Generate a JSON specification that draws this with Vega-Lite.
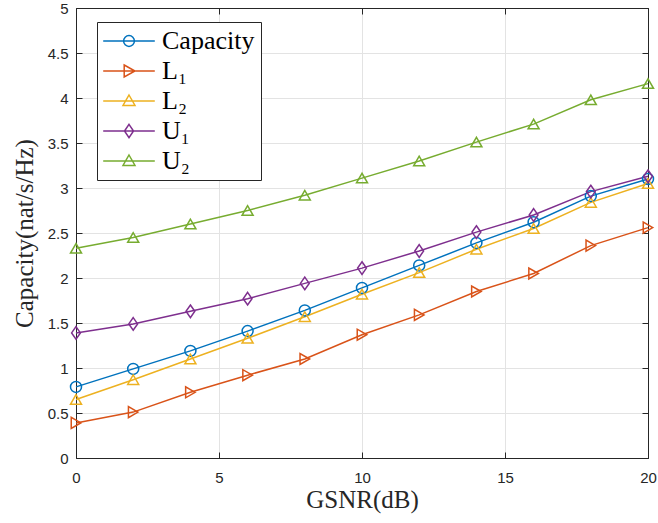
{
  "$schema": "https://vega.github.io/schema/vega-lite/v6.json",
  "width": 572,
  "height": 450,
  "autosize": {"type": "none"},
  "padding": {"left": 76, "top": 8, "right": 10, "bottom": 65},
  "background": "white",
  "config": {
    "view": {"stroke": "#262626", "strokeWidth": 1},
    "axis": {
      "domainColor": "#262626",
      "tickColor": "#262626",
      "labelColor": "#262626",
      "labelFont": "Liberation Sans",
      "labelFontSize": 15,
      "labelFlush": false,
      "titleFont": "Liberation Serif",
      "titleFontSize": 25,
      "titleFontWeight": "normal",
      "titleColor": "#262626",
      "gridColor": "#e3e3e3",
      "gridWidth": 1
    }
  },
  "data": {
    "values": [
      {"gsnr": 0, "cap": 0.79, "series": "Capacity"},
      {"gsnr": 2, "cap": 0.99, "series": "Capacity"},
      {"gsnr": 4, "cap": 1.19, "series": "Capacity"},
      {"gsnr": 6, "cap": 1.41, "series": "Capacity"},
      {"gsnr": 8, "cap": 1.64, "series": "Capacity"},
      {"gsnr": 10, "cap": 1.89, "series": "Capacity"},
      {"gsnr": 12, "cap": 2.14, "series": "Capacity"},
      {"gsnr": 14, "cap": 2.39, "series": "Capacity"},
      {"gsnr": 16, "cap": 2.62, "series": "Capacity"},
      {"gsnr": 18, "cap": 2.91, "series": "Capacity"},
      {"gsnr": 20, "cap": 3.10, "series": "Capacity"},
      {"gsnr": 0, "cap": 0.39, "series": "L\u2081"},
      {"gsnr": 2, "cap": 0.51, "series": "L\u2081"},
      {"gsnr": 4, "cap": 0.73, "series": "L\u2081"},
      {"gsnr": 6, "cap": 0.92, "series": "L\u2081"},
      {"gsnr": 8, "cap": 1.10, "series": "L\u2081"},
      {"gsnr": 10, "cap": 1.37, "series": "L\u2081"},
      {"gsnr": 12, "cap": 1.59, "series": "L\u2081"},
      {"gsnr": 14, "cap": 1.85, "series": "L\u2081"},
      {"gsnr": 16, "cap": 2.05, "series": "L\u2081"},
      {"gsnr": 18, "cap": 2.36, "series": "L\u2081"},
      {"gsnr": 20, "cap": 2.56, "series": "L\u2081"},
      {"gsnr": 0, "cap": 0.65, "series": "L\u2082"},
      {"gsnr": 2, "cap": 0.87, "series": "L\u2082"},
      {"gsnr": 4, "cap": 1.10, "series": "L\u2082"},
      {"gsnr": 6, "cap": 1.33, "series": "L\u2082"},
      {"gsnr": 8, "cap": 1.57, "series": "L\u2082"},
      {"gsnr": 10, "cap": 1.82, "series": "L\u2082"},
      {"gsnr": 12, "cap": 2.06, "series": "L\u2082"},
      {"gsnr": 14, "cap": 2.32, "series": "L\u2082"},
      {"gsnr": 16, "cap": 2.55, "series": "L\u2082"},
      {"gsnr": 18, "cap": 2.84, "series": "L\u2082"},
      {"gsnr": 20, "cap": 3.05, "series": "L\u2082"},
      {"gsnr": 0, "cap": 1.39, "series": "U\u2081"},
      {"gsnr": 2, "cap": 1.49, "series": "U\u2081"},
      {"gsnr": 4, "cap": 1.63, "series": "U\u2081"},
      {"gsnr": 6, "cap": 1.77, "series": "U\u2081"},
      {"gsnr": 8, "cap": 1.94, "series": "U\u2081"},
      {"gsnr": 10, "cap": 2.11, "series": "U\u2081"},
      {"gsnr": 12, "cap": 2.30, "series": "U\u2081"},
      {"gsnr": 14, "cap": 2.51, "series": "U\u2081"},
      {"gsnr": 16, "cap": 2.70, "series": "U\u2081"},
      {"gsnr": 18, "cap": 2.96, "series": "U\u2081"},
      {"gsnr": 20, "cap": 3.13, "series": "U\u2081"},
      {"gsnr": 0, "cap": 2.33, "series": "U\u2082"},
      {"gsnr": 2, "cap": 2.45, "series": "U\u2082"},
      {"gsnr": 4, "cap": 2.60, "series": "U\u2082"},
      {"gsnr": 6, "cap": 2.75, "series": "U\u2082"},
      {"gsnr": 8, "cap": 2.92, "series": "U\u2082"},
      {"gsnr": 10, "cap": 3.11, "series": "U\u2082"},
      {"gsnr": 12, "cap": 3.30, "series": "U\u2082"},
      {"gsnr": 14, "cap": 3.51, "series": "U\u2082"},
      {"gsnr": 16, "cap": 3.71, "series": "U\u2082"},
      {"gsnr": 18, "cap": 3.98, "series": "U\u2082"},
      {"gsnr": 20, "cap": 4.16, "series": "U\u2082"}
    ]
  },
  "layer": [
    {
      "mark": {"type": "line", "strokeWidth": 1.5},
      "encoding": {
        "x": {
          "field": "gsnr", "type": "quantitative",
          "scale": {"domain": [0, 20], "nice": false},
          "axis": {"orient": "bottom", "values": [0, 5, 10, 15, 20], "grid": true, "tickSize": -6, "labelPadding": 18, "title": "GSNR(dB)", "titlePadding": 2}
        },
        "y": {
          "field": "cap", "type": "quantitative",
          "scale": {"domain": [0, 5], "nice": false},
          "axis": {"orient": "left", "values": [0, 0.5, 1, 1.5, 2, 2.5, 3, 3.5, 4, 4.5, 5], "format": "~g", "grid": true, "tickSize": -6, "labelPadding": 14, "title": "Capacity(nat/s/Hz)", "titlePadding": 10}
        },
        "color": {
          "field": "series", "type": "nominal",
          "scale": {"domain": ["Capacity", "L\u2081", "L\u2082", "U\u2081", "U\u2082"], "range": ["#0072BD", "#D95319", "#EDB120", "#7E2F8E", "#77AC30"]},
          "legend": null
        }
      }
    },
    {
      "mark": {"type": "point", "filled": false, "size": 121, "strokeWidth": 1.5, "opacity": 1},
      "encoding": {
        "x": {
          "field": "gsnr", "type": "quantitative",
          "axis": {"orient": "top", "values": [0, 5, 10, 15, 20], "grid": false, "labels": false, "title": null, "tickSize": -6}
        },
        "y": {
          "field": "cap", "type": "quantitative",
          "axis": {"orient": "right", "values": [0, 0.5, 1, 1.5, 2, 2.5, 3, 3.5, 4, 4.5, 5], "grid": false, "labels": false, "title": null, "tickSize": -6}
        },
        "color": {"field": "series", "type": "nominal", "legend": null},
        "shape": {
          "field": "series", "type": "nominal",
          "scale": {"domain": ["Capacity", "L\u2081", "L\u2082", "U\u2081", "U\u2082"], "range": ["circle", "triangle-right", "triangle-up", "M0,-1.15L0.8,0L0,1.15L-0.8,0Z", "triangle-up"]},
          "legend": null
        }
      }
    },
    {
      "mark": {"type": "point", "filled": false, "size": 121, "strokeWidth": 1.5, "opacity": 0},
      "encoding": {
        "x": {"field": "gsnr", "type": "quantitative", "axis": null},
        "y": {"field": "cap", "type": "quantitative", "axis": null},
        "stroke": {
          "field": "series", "type": "nominal",
          "scale": {"domain": ["Capacity", "L\u2081", "L\u2082", "U\u2081", "U\u2082"], "range": ["#0072BD", "#D95319", "#EDB120", "#7E2F8E", "#77AC30"]},
          "legend": {
            "orient": "none", "legendX": 21, "legendY": 14, "title": null,
            "strokeColor": "#262626", "fillColor": "white", "padding": 6,
            "labelFont": "Liberation Serif", "labelFontSize": 26, "labelColor": "black",
            "symbolSize": 144, "symbolStrokeWidth": 1.5, "symbolOpacity": 1, "symbolFillColor": "transparent",
            "symbolOffset": 13, "labelOffset": 20, "rowPadding": 4
          }
        },
        "shape": {
          "field": "series", "type": "nominal",
          "scale": {"domain": ["Capacity", "L\u2081", "L\u2082", "U\u2081", "U\u2082"], "range": [
            "M-4.3,0H4.3M0.9,0A0.9,0.9 0 1,1 -0.9,0A0.9,0.9 0 1,1 0.9,0",
            "M-4.3,0H4.3M-0.8,-1L1,0L-0.8,1Z",
            "M-4.3,0H4.3M0,-1L1,0.75L-1,0.75Z",
            "M-4.3,0H4.3M0,-1.1L0.75,0L0,1.1L-0.75,0Z",
            "M-4.3,0H4.3M0,-1L1,0.75L-1,0.75Z"
          ]},
          "legend": {
            "orient": "none", "legendX": 21, "legendY": 14, "title": null,
            "strokeColor": "#262626", "fillColor": "white", "padding": 6,
            "labelFont": "Liberation Serif", "labelFontSize": 26, "labelColor": "black",
            "symbolSize": 144, "symbolStrokeWidth": 1.5, "symbolOpacity": 1, "symbolFillColor": "transparent",
            "symbolOffset": 13, "labelOffset": 20, "rowPadding": 4
          }
        }
      }
    }
  ],
  "resolve": {
    "axis": {"x": "independent", "y": "independent"},
    "scale": {"shape": "independent", "stroke": "independent"},
    "legend": {"shape": "independent", "stroke": "independent"}
  }
}
